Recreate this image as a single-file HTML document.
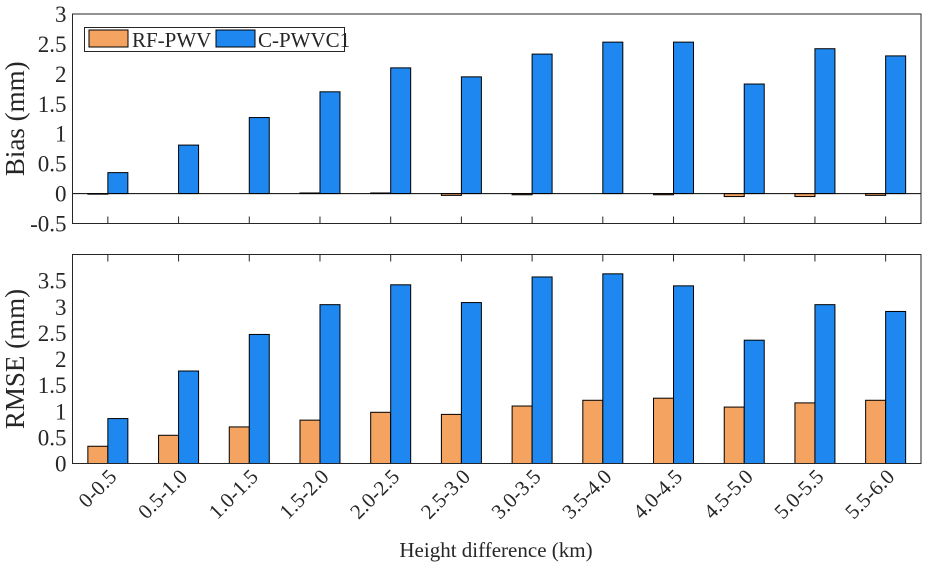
<!DOCTYPE html>
<html><head><meta charset="utf-8"><style>
body{margin:0;background:#fff}
svg text{font-family:"Liberation Serif",serif;fill:#262626}
</style></head><body>
<svg id="c" width="928" height="568" xmlns="http://www.w3.org/2000/svg"></svg>
<script>
const categories=["0-0.5","0.5-1.0","1.0-1.5","1.5-2.0","2.0-2.5","2.5-3.0","3.0-3.5","3.5-4.0","4.0-4.5","4.5-5.0","5.0-5.5","5.5-6.0"];
const biasRF=[-0.01,0,0,0.01,0.01,-0.03,-0.02,0,-0.02,-0.05,-0.05,-0.03];
const biasC=[0.35,0.81,1.27,1.70,2.10,1.95,2.33,2.53,2.53,1.83,2.42,2.30];
const rmseRF=[0.33,0.54,0.70,0.83,0.98,0.94,1.10,1.21,1.25,1.08,1.16,1.21];
const rmseC=[0.86,1.77,2.47,3.04,3.42,3.08,3.57,3.63,3.40,2.36,3.04,2.91];
const biasTicks=["-0.5","0","0.5","1","1.5","2","2.5","3"];
const rmseTicks=["0","0.5","1","1.5","2","2.5","3","3.5"];
const NS="http://www.w3.org/2000/svg",svg=document.getElementById('c');
function mk(t,a,p){const e=document.createElementNS(NS,t);for(const k in a)e.setAttribute(k,a[k]);(p||svg).appendChild(e);return e;}
const L=72.5,R=921,W=R-L,n=categories.length,bw=20;
function xc(i){return L+(i+0.5)*W/n;}
function panel(name,top,bot,ymin,ymax,ticks,rf,cc,yl,tickTop){
  const y=v=>bot-(v-ymin)/(ymax-ymin)*(bot-top);
  const g=mk('g',{});
  
  
  const y0=y(0);
  for(let i=0;i<n;i++){
    const a=rf[i],b=cc[i];
    let r=mk('rect',{x:xc(i)-bw,y:Math.min(y(a),y0),width:bw,height:Math.abs(y(a)-y0),fill:'#F4A460',stroke:'#000','stroke-width':1},g);
    
    
    r=mk('rect',{x:xc(i),y:Math.min(y(b),y0),width:bw,height:Math.abs(y(b)-y0),fill:'#1E88F0',stroke:'#000','stroke-width':1},g);
    
    
  }
  if(ymin<0)mk('line',{x1:L,x2:R,y1:y0,y2:y0,stroke:'#000','stroke-width':1},g);
  mk('rect',{x:L,y:top,width:W,height:bot-top,fill:'none',stroke:'#262626','stroke-width':1},g);
  for(let i=0;i<n;i++){
    const ty=tickTop?top:bot;
    mk('line',{x1:xc(i),x2:xc(i),y1:ty,y2:tickTop?ty+7:ty-7,stroke:'#262626'},g);
  }
  ticks.forEach(t=>{
    const tx=mk('text',{x:L-6,y:y(parseFloat(t))+8,'text-anchor':'end','font-size':23},g);
    tx.textContent=t;
    
    
  });
  const yt=mk('text',{transform:`translate(24,${(top+bot)/2}) rotate(-90)`,'text-anchor':'middle','font-size':27},g);
  yt.textContent=yl;
  
  
}
panel('bias',14,223.5,-0.5,3,biasTicks,biasRF,biasC,'Bias (mm)',false);
panel('rmse',254.5,463.5,0,4,rmseTicks,rmseRF,rmseC,'RMSE (mm)',true);
categories.forEach((c,i)=>{
  const t=mk('text',{transform:`translate(${xc(i)+10},${478}) rotate(-45)`,'text-anchor':'end','font-size':21});
  t.textContent=c;
  
  
});
const xt=mk('text',{x:496,y:557,'text-anchor':'middle','font-size':21});
xt.textContent='Height difference (km)';


const lg=mk('g',{});


mk('rect',{x:84.5,y:27.5,width:260,height:24,fill:'#fff',stroke:'#262626'},lg);
mk('rect',{x:89,y:30,width:39,height:17,fill:'#F4A460',stroke:'#000'},lg);
let t=mk('text',{x:132,y:47,'font-size':21},lg);t.textContent='RF-PWV';


mk('rect',{x:216,y:30,width:39,height:17,fill:'#1E88F0',stroke:'#000'},lg);
t=mk('text',{x:258,y:47,'font-size':21},lg);t.textContent='C-PWVC1';


</script>
</body></html>
